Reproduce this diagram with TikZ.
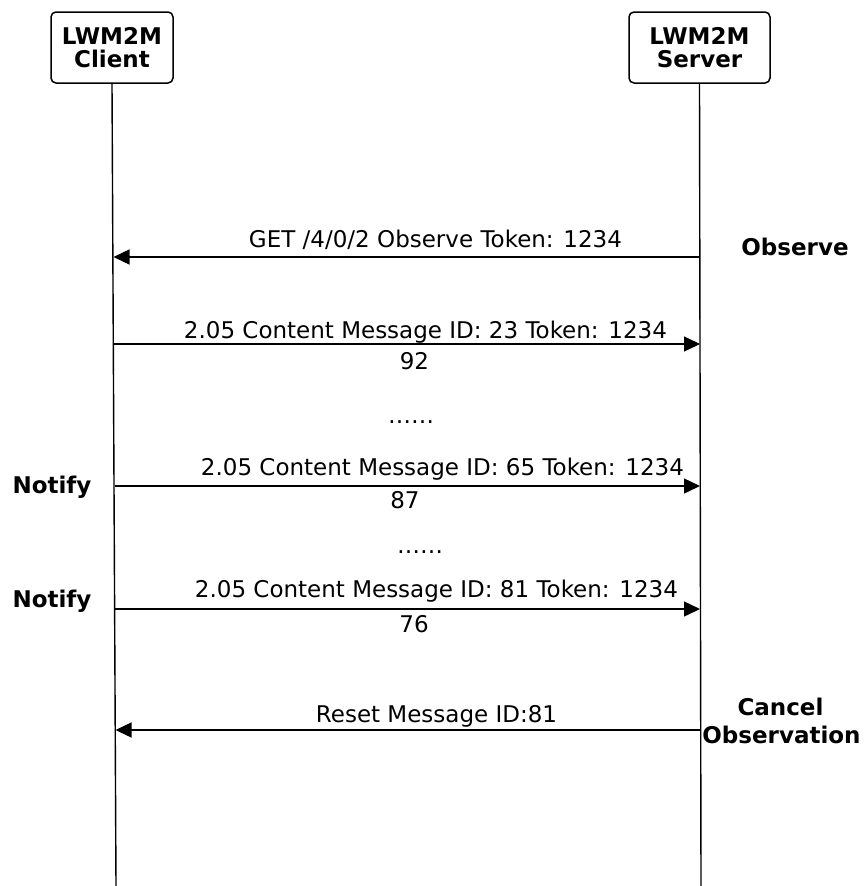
\documentclass[tikz,border=0pt]{standalone}
\usepackage{fontspec}
\setmainfont{DejaVu Sans}
\usetikzlibrary{arrows.meta}
\begin{document}
\begin{tikzpicture}[x=1pt,y=-1pt,
  font=\fontsize{23}{23}\selectfont,
  actor/.style={draw, line width=1.5pt, rounded corners=5pt, minimum width=122pt, minimum height=71pt, align=center, font=\fontsize{23}{23}\selectfont\bfseries, inner sep=0pt},
  life/.style={line width=1.4pt},
  msg/.style={line width=1.4pt, -{Triangle[length=16pt,width=15pt]}},
  lbl/.style={anchor=base, inner sep=0pt},
  side/.style={anchor=base, inner sep=0pt, font=\fontsize{23}{23}\selectfont\bfseries}]
\useasboundingbox (0,0) rectangle (863,886);
% actors
\node[actor] (client) at (112,47.5) {LWM2M\\Client};
\node[actor, minimum width=141pt] (server) at (699.5,47.5) {LWM2M\\Server};
% lifeline ends
\coordinate (cend) at (116,886);
\coordinate (send) at (701,886);
\draw[life] (client.south) -- (cend);
\draw[life] (server.south) -- (send);
% message end points
\coordinate (s1) at (700,257);
\coordinate (c1) at (113.5,257);
\coordinate (c2) at (114,344);
\coordinate (s2) at (700,344);
\coordinate (c3) at (114.5,486);
\coordinate (s3) at (700,486);
\coordinate (c4) at (115,609);
\coordinate (s4) at (700,609);
\coordinate (s5) at (700,730);
\coordinate (c5) at (115.5,730);
% messages
\draw[msg] (s1) -- (c1);
\draw[msg] (c2) -- (s2);
\draw[msg] (c3) -- (s3);
\draw[msg] (c4) -- (s4);
\draw[msg] (s5) -- (c5);
% labels
\node[lbl] (m1) at (435.5,247) {GET /4/0/2 Observe Token: 1234};
\node[lbl] (m2a) at (425.5,338) {2.05 Content Message ID: 23 Token: 1234};
\node[lbl] (m2b) at (414.5,369) {92};
\node[lbl] (d1) at (411,423) {……};
\node[lbl] (m3a) at (442.5,475) {2.05 Content Message ID: 65 Token: 1234};
\node[lbl] (m3b) at (405,508) {87};
\node[lbl] (d2) at (420,553) {……};
\node[lbl] (m4a) at (436.5,597) {2.05 Content Message ID: 81 Token: 1234};
\node[lbl] (m4b) at (414,632) {76};
\node[lbl] (m5) at (436.5,722) {Reset Message ID:81};
% side notes
\node[side] (obs) at (795,255) {Observe};
\node[side] (n1) at (52,493) {Notify};
\node[side] (n2) at (52,607) {Notify};
\node[side] (can1) at (780.5,715) {Cancel};
\node[side] (can2) at (781.5,743) {Observation};
\end{tikzpicture}
\end{document}
